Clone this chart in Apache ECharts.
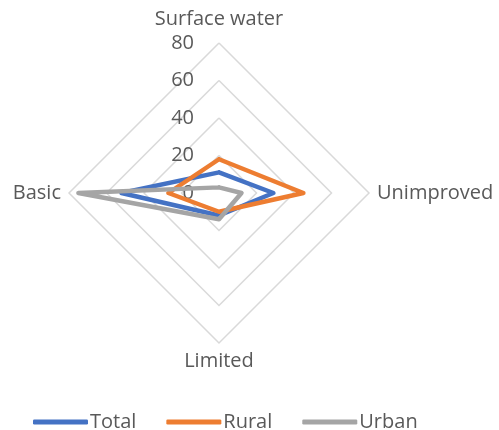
<!DOCTYPE html>
<html>
<head>
<meta charset="utf-8">
<script src="https://cdn.jsdelivr.net/npm/echarts@6/dist/echarts.min.js"></script>
<style>
  html, body { margin: 0; padding: 0; background: #ffffff; }
  #chart { width: 499px; height: 430px; }
</style>
</head>
<body>
<div id="chart"></div>
<script>
// Water source categories, in ECharts' counter-clockwise order from the top
const categories = ['Surface water', 'Basic', 'Limited', 'Unimproved'];
const axisMax = 80;

// Percentages per category (same order as categories)
const totalValues = [11, 52, 12, 29];
const ruralValues = [18, 27, 10, 45];
const urbanValues = [3, 75, 14, 12];

const seriesNames = ['Total', 'Rural', 'Urban'];
const seriesColors = ['#4472C4', '#ED7D31', '#A5A5A5'];
const seriesValues = [totalValues, ruralValues, urbanValues];

const textColor = '#595959';
const fontFamily = '"Open Sans", sans-serif';

const chart = echarts.init(document.getElementById('chart'), null, { renderer: 'canvas' });

chart.setOption({
  animation: false,
  backgroundColor: '#ffffff',
  legend: {
    left: 28,
    top: 407,
    icon: 'roundRect',
    itemWidth: 55,
    itemHeight: 5,
    itemGap: 30,
    textStyle: { color: textColor, fontSize: 20, fontFamily: fontFamily, padding: [0, 0, 0, -3] },
    data: seriesNames
  },
  radar: {
    center: [219, 193],
    radius: 150,
    shape: 'polygon',
    splitNumber: 4,
    startAngle: 90,
    nameGap: 8,
    axisName: {
      color: textColor,
      fontSize: 20,
      fontFamily: fontFamily,
      formatter: function (name) {
        return name === 'Surface water' ? '{t|' + name + '}' : name;
      },
      rich: {
        t: { color: textColor, fontSize: 20, fontFamily: fontFamily, padding: [0, 0, 6, 0] }
      }
    },
    indicator: categories.map(function (name, i) {
      return {
        name: name,
        min: 0,
        max: axisMax,
        axisLabel: { show: i === 0 }
      };
    }),
    axisLine: { show: false },
    axisTick: { show: false },
    axisLabel: {
      show: true,
      color: textColor,
      fontSize: 20,
      fontFamily: fontFamily,
      margin: 25
    },
    splitLine: { lineStyle: { color: '#d9d9d9', width: 1.5 } },
    splitArea: { show: false }
  },
  series: [{
    type: 'radar',
    symbol: 'none',
    data: seriesNames.map(function (name, i) {
      return {
        name: name,
        value: seriesValues[i],
        itemStyle: { color: seriesColors[i] },
        lineStyle: { color: seriesColors[i], width: 4.5, join: 'round', cap: 'round' }
      };
    })
  }]
});
</script>
</body>
</html>
